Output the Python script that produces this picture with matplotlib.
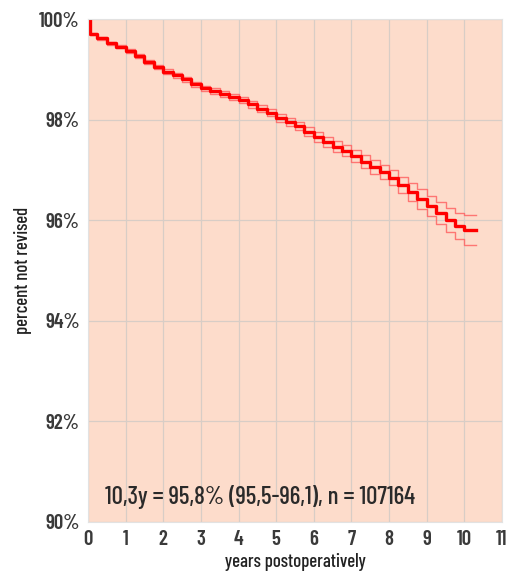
import matplotlib
matplotlib.use("Agg")
import matplotlib.pyplot as plt

# survival curve (years, percent not revised)
years = [0, 0.05, 0.25, 0.5, 0.75, 1.0, 1.25, 1.5, 1.75, 2.0, 2.25, 2.5, 2.75,
         3.0, 3.25, 3.5, 3.75, 4.0, 4.25, 4.5, 4.75, 5.0, 5.25, 5.5, 5.75,
         6.0, 6.25, 6.5, 6.75, 7.0, 7.25, 7.5, 7.75, 8.0, 8.25, 8.5, 8.75,
         9.0, 9.25, 9.5, 9.75, 10.0, 10.3]
surv = [100, 99.70, 99.62, 99.52, 99.45, 99.36, 99.26, 99.15, 99.05, 98.95,
        98.88, 98.80, 98.70, 98.62, 98.56, 98.50, 98.44, 98.38, 98.30, 98.22,
        98.14, 98.04, 97.96, 97.88, 97.76, 97.66, 97.56, 97.46, 97.38, 97.28,
        97.16, 97.05, 96.95, 96.84, 96.70, 96.56, 96.42, 96.28, 96.14, 96.00,
        95.88, 95.80, 95.80]
upper = [100, 99.72, 99.65, 99.55, 99.48, 99.40, 99.30, 99.19, 99.09, 99.00,
         98.93, 98.85, 98.75, 98.67, 98.62, 98.56, 98.50, 98.44, 98.37, 98.29,
         98.21, 98.12, 98.04, 97.96, 97.85, 97.76, 97.66, 97.57, 97.49, 97.40,
         97.29, 97.19, 97.09, 96.99, 96.86, 96.74, 96.61, 96.48, 96.36, 96.24,
         96.14, 96.10, 96.10]
lower = [100, 99.68, 99.59, 99.49, 99.42, 99.32, 99.22, 99.11, 99.01, 98.90,
         98.83, 98.75, 98.65, 98.57, 98.50, 98.44, 98.38, 98.32, 98.23, 98.15,
         98.07, 97.96, 97.88, 97.80, 97.67, 97.56, 97.46, 97.35, 97.27, 97.16,
         97.03, 96.91, 96.81, 96.69, 96.54, 96.38, 96.23, 96.08, 95.92, 95.76,
         95.62, 95.50, 95.50]

x_ticks = list(range(0, 12))
y_ticks = [90, 92, 94, 96, 98, 100]
y_labels = ["90%", "92%", "94%", "96%", "98%", "100%"]
note = "10,3y = 95,8% (95,5-96,1), n = 107164"

plt.rcParams["font.family"] = ["Barlow Condensed", "DejaVu Sans"]

fig = plt.figure(figsize=(5.13, 5.76), dpi=100)
ax = fig.add_axes([0.1715, 0.094, 0.807, 0.873])
ax.set_facecolor("#fddccb")

ax.plot(years, upper, drawstyle="steps-post", color="#ff6464", lw=1.0, alpha=0.85)
ax.plot(years, lower, drawstyle="steps-post", color="#ff6464", lw=1.0, alpha=0.85)
ax.plot(years, surv, drawstyle="steps-post", color="#ff0000", lw=2.4)

ax.set_xlim(0, 11)
ax.set_ylim(90, 100)
ax.set_xticks(x_ticks)
ax.set_yticks(y_ticks)
ax.set_yticklabels(y_labels)
ax.grid(True, color="#d8cdc6", lw=0.9)
ax.set_axisbelow(True)
ax.tick_params(length=0, labelsize=15, colors="#3a3a3a", pad=6)
for lab in ax.get_xticklabels() + ax.get_yticklabels():
    lab.set_fontweight("semibold")
for s in ax.spines.values():
    s.set_color("#e2e2e2")
    s.set_linewidth(0.8)

ax.text(0.45, 90.35, note, fontsize=18, color="#2a2a2a", fontweight="medium",
        va="baseline")
ax.set_xlabel("years postoperatively", fontsize=13.5, color="#222222",
              fontweight="medium", labelpad=3)
ax.set_ylabel("percent not revised", fontsize=13.5, color="#222222",
              fontweight="medium", labelpad=5)

fig.savefig("out.png", dpi=100)
